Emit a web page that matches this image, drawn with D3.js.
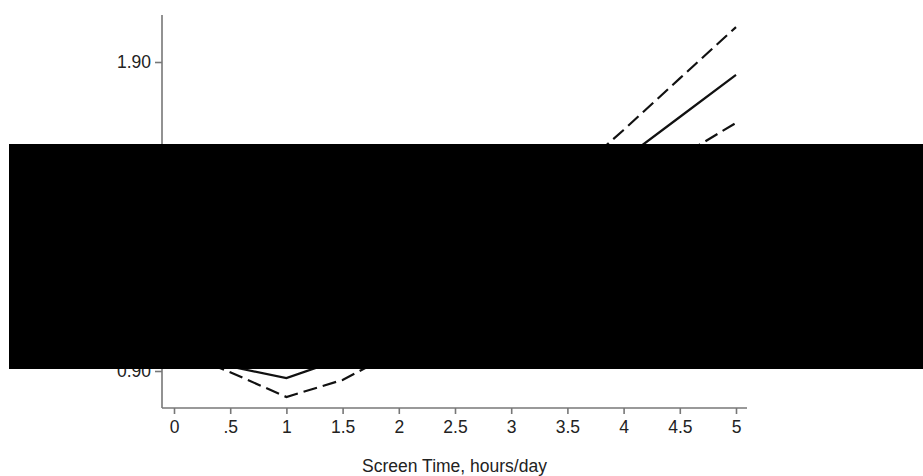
<!DOCTYPE html>
<html>
<head>
<meta charset="utf-8">
<script src="https://cdn.jsdelivr.net/npm/d3@7"></script>
<style>
  body { margin: 0; background: #fff; }
  svg { display: block; font-family: "Liberation Sans", Arial, sans-serif; }
</style>
</head>
<body>
<svg id="chart" width="923" height="476"></svg>
<script>
// screen time (hours/day) at which the curves are evaluated
const hours = [0, 0.5, 1, 1.5, 2, 2.5, 3, 3.5, 4, 4.5, 5];
// estimate and 95% CI (middle part hidden by the box)
const estimate = [0.98, 0.915, 0.877, 0.94, 1.02, 1.12, 1.24, 1.40, 1.586, 1.722, 1.858];
const upperCI  = [1.08, 0.99, 0.94, 1.01, 1.09, 1.19, 1.33, 1.52, 1.68, 1.847, 2.013];
const lowerCI  = [0.97, 0.896, 0.816, 0.871, 0.966, 1.04, 1.14, 1.28, 1.485, 1.594, 1.703];

const xTicks = [0, 0.5, 1, 1.5, 2, 2.5, 3, 3.5, 4, 4.5, 5];
const xTickLabels = ["0", ".5", "1", "1.5", "2", "2.5", "3", "3.5", "4", "4.5", "5"];
const yTicks = [0.90, 1.90];
const xTitle = "Screen Time, hours/day";

const svg = d3.select("#chart");

const x = d3.scaleLinear().domain([0, 5]).range([174, 736]);
const y = d3.scaleLinear().domain([0.90, 1.90]).range([371, 62]);

const axisColor = "#777";
const textColor = "#222";
const fontSize = "17.5px";

// axis lines
const xLeft = 162, xRight = 747, yTop = 15, yBottom = 408;
svg.append("line")
    .attr("x1", xLeft).attr("x2", xLeft)
    .attr("y1", yTop).attr("y2", yBottom)
    .attr("stroke", axisColor).attr("stroke-width", 1.6);
svg.append("line")
    .attr("x1", xLeft).attr("x2", xRight)
    .attr("y1", yBottom).attr("y2", yBottom)
    .attr("stroke", axisColor).attr("stroke-width", 1.6);

// x axis
const xAxis = svg.append("g")
    .attr("transform", `translate(0,${yBottom})`)
    .call(d3.axisBottom(x)
        .tickValues(xTicks)
        .tickFormat((d, i) => xTickLabels[i])
        .tickSize(6)
        .tickPadding(7));
xAxis.select(".domain").remove();
xAxis.selectAll("line").attr("stroke", axisColor).attr("stroke-width", 1.6);
xAxis.selectAll("text")
    .attr("fill", textColor)
    .style("font-size", fontSize)
    .style("font-family", "'Liberation Sans', Arial, sans-serif");

// y axis
const yAxis = svg.append("g")
    .attr("transform", `translate(${xLeft},0)`)
    .call(d3.axisLeft(y)
        .tickValues(yTicks)
        .tickFormat(d3.format(".2f"))
        .tickSize(7)
        .tickPadding(4));
yAxis.select(".domain").remove();
yAxis.selectAll("line").attr("stroke", axisColor).attr("stroke-width", 1.6);
yAxis.selectAll("text")
    .attr("fill", textColor)
    .style("font-size", fontSize)
    .style("font-family", "'Liberation Sans', Arial, sans-serif");

// axis title
svg.append("text")
    .attr("x", (xLeft + xRight) / 2)
    .attr("y", 472)
    .attr("text-anchor", "middle")
    .attr("fill", textColor)
    .style("font-size", fontSize)
    .text(xTitle);

// curves
const line = d3.line()
    .x(d => x(d[0]))
    .y(d => y(d[1]));

const series = [
    { values: upperCI, dash: "14,6" },
    { values: estimate, dash: null },
    { values: lowerCI, dash: "14,6" }
];

svg.append("g")
    .selectAll("path")
    .data(series)
    .join("path")
    .attr("d", s => line(hours.map((h, i) => [h, s.values[i]])))
    .attr("fill", "none")
    .attr("stroke", "#111")
    .attr("stroke-width", 2.2)
    .attr("stroke-dasharray", s => s.dash);

// redaction box covering the middle of the figure
svg.append("rect")
    .attr("x", 9).attr("y", 144)
    .attr("width", 914).attr("height", 225)
    .attr("fill", "#000");
</script>
</body>
</html>
